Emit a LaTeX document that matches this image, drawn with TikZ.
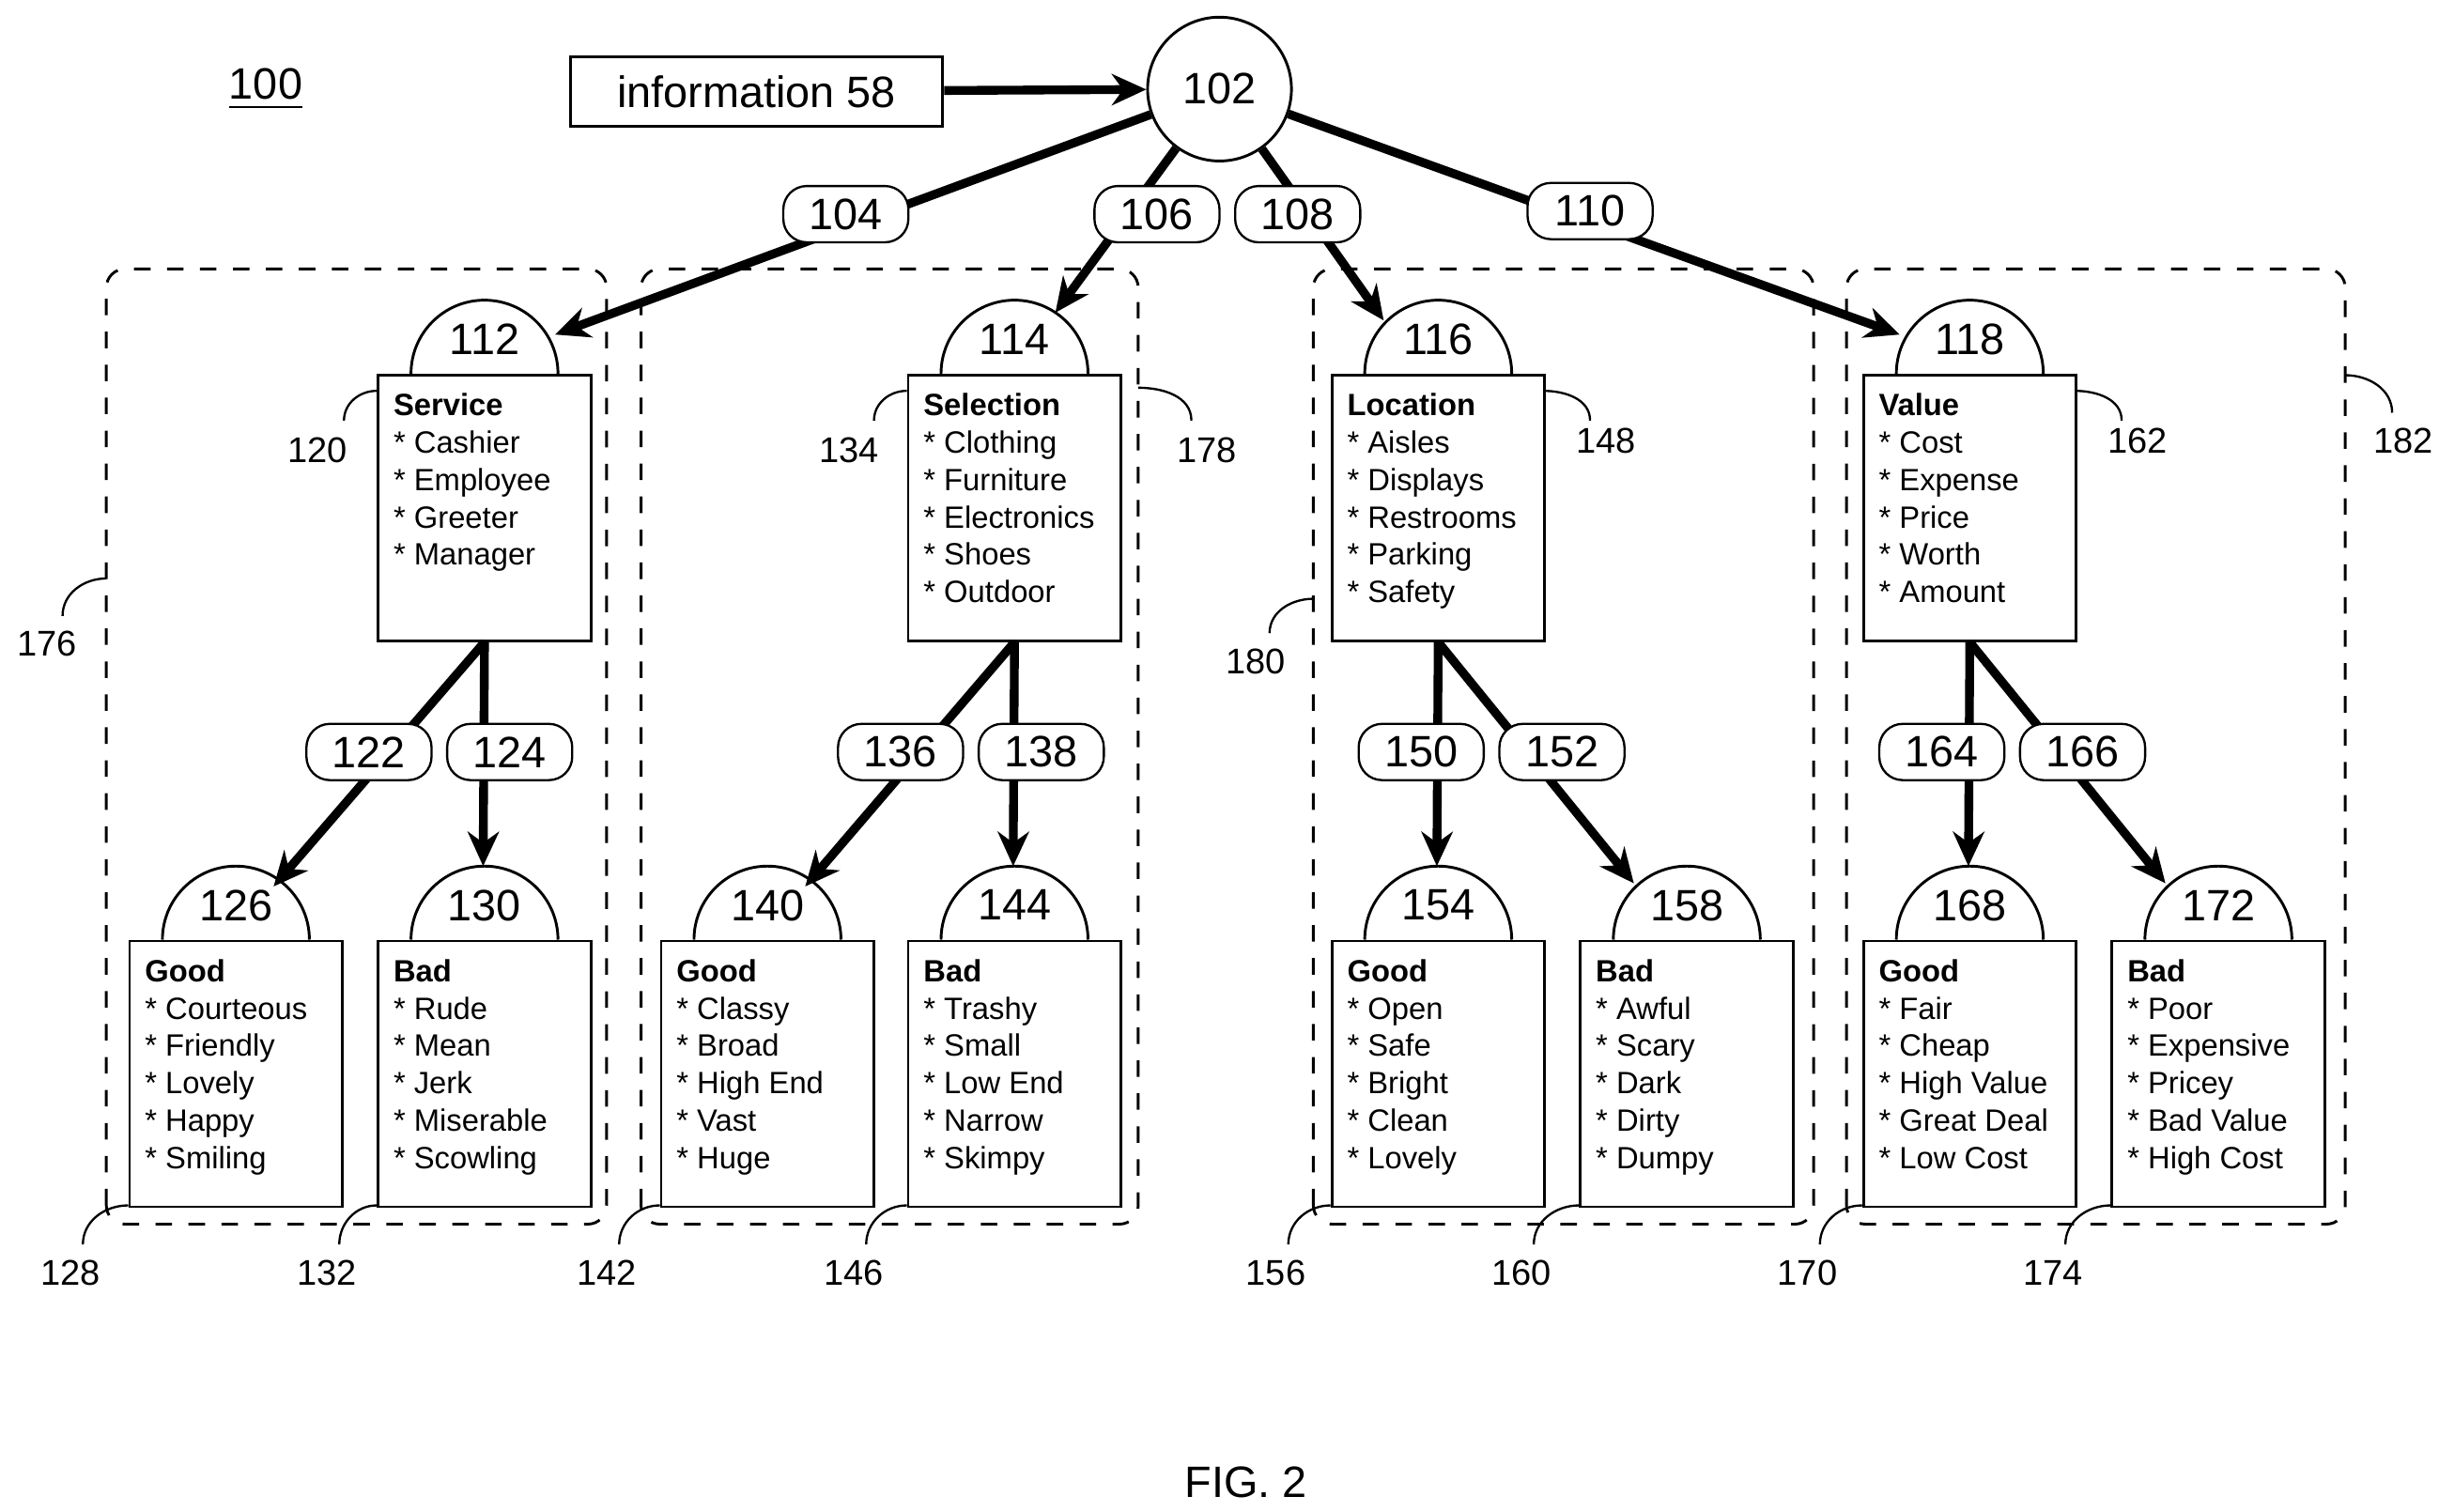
\documentclass[tikz,border=0pt]{standalone}
\usepackage{fontspec}
\setmainfont{Liberation Sans}
\usetikzlibrary{calc,arrows.meta}
\begin{document}
\begin{tikzpicture}[
 box/.style={draw,line width=0.5pt,minimum width=1.36cm,minimum height=1.70cm,inner sep=0,anchor=north west},
 btext/.style={anchor=north west,align=left,inner sep=0,font=\fontsize{5.6}{6.8}\selectfont},
 numf/.style={font=\fontsize{8}{9}\selectfont,inner sep=0},
 pill/.style={draw,fill=white,rounded corners=0.15cm,minimum width=0.8cm,minimum height=0.36cm,inner sep=0,font=\fontsize{8}{9}\selectfont},
 ref/.style={font=\fontsize{6.5}{7}\selectfont,inner sep=0},
 lead/.style={line width=0.4pt},
 big/.style={line width=1.6pt,-{Stealth[length=0.22cm,width=0.2cm]}},
 grp/.style={draw,dashed,line width=0.5pt,rounded corners=0.12cm}]
\useasboundingbox (0,0) rectangle (15.60,9.67);
\newcommand\cbox[6]{%
 \node[box] (#1) at (#2,#3) {};
 \draw[line width=0.5pt] ($(#1.north)+(-0.47,0)$) arc(180:0:0.47);
 \node[numf] (#1n) at ($(#1.north)+(0,0.22)$) {#4};
 \node[btext] (#1t) at ($(#1.north west)+(0.10,-0.12)$) {\textbf{#5}\\#6};
}
\node[font=\fontsize{8}{9}\selectfont] (n100) at (1.70,9.10) {\underline{100}};
\node[draw,line width=0.5pt,minimum width=2.38cm,minimum height=0.43cm,font=\fontsize{8}{9}\selectfont] (info) at (4.84,9.085) {information 58};
\node[draw,circle,line width=0.5pt,minimum size=0.92cm,inner sep=0,font=\fontsize{8}{9}\selectfont] (c102) at (7.80,9.10) {102};
\draw[big] (info) -- (c102);
% dashed groups
\draw[grp] (0.68,1.84) rectangle (3.88,7.95);
\draw[grp] (4.10,1.84) rectangle (7.28,7.95);
\draw[grp] (8.40,1.84) rectangle (11.60,7.95);
\draw[grp] (11.81,1.84) rectangle (15.00,7.95);
% level 1
\cbox{b112}{2.41}{7.28}{112}{Service}{* Cashier\\* Employee\\* Greeter\\* Manager}
\cbox{b114}{5.80}{7.28}{114}{Selection}{* Clothing\\* Furniture\\* Electronics\\* Shoes\\* Outdoor}
\cbox{b116}{8.51}{7.28}{116}{Location}{* Aisles\\* Displays\\* Restrooms\\* Parking\\* Safety}
\cbox{b118}{11.91}{7.28}{118}{Value}{* Cost\\* Expense\\* Price\\* Worth\\* Amount}
% level 2
\cbox{b126}{0.82}{3.66}{126}{Good}{* Courteous\\* Friendly\\* Lovely\\* Happy\\* Smiling}
\cbox{b130}{2.41}{3.66}{130}{Bad}{* Rude\\* Mean\\* Jerk\\* Miserable\\* Scowling}
\cbox{b140}{4.22}{3.66}{140}{Good}{* Classy\\* Broad\\* High End\\* Vast\\* Huge}
\cbox{b144}{5.80}{3.66}{144}{Bad}{* Trashy\\* Small\\* Low End\\* Narrow\\* Skimpy}
\cbox{b154}{8.51}{3.66}{154}{Good}{* Open\\* Safe\\* Bright\\* Clean\\* Lovely}
\cbox{b158}{10.10}{3.66}{158}{Bad}{* Awful\\* Scary\\* Dark\\* Dirty\\* Dumpy}
\cbox{b168}{11.91}{3.66}{168}{Good}{* Fair\\* Cheap\\* High Value\\* Great Deal\\* Low Cost}
\cbox{b172}{13.50}{3.66}{172}{Bad}{* Poor\\* Expensive\\* Pricey\\* Bad Value\\* High Cost}
% top arrows
\coordinate (e112) at (3.55,7.53);
\coordinate (e114) at (6.75,7.67);
\coordinate (e116) at (8.85,7.62);
\coordinate (e118) at (12.15,7.53);
\draw[big] (c102) -- (e112);
\draw[big] (c102) -- (e114);
\draw[big] (c102) -- (e116);
\draw[big] (c102) -- (e118);
\node[pill] (p104) at (5.41,8.30) {104};
\node[pill] (p106) at (7.40,8.30) {106};
\node[pill] (p108) at (8.30,8.30) {108};
\node[pill] (p110) at (10.17,8.32) {110};
% lower arrows
\coordinate (e126) at (1.75,4.00);
\coordinate (e130) at (3.09,4.13);
\coordinate (e140) at (5.15,4.00);
\coordinate (e144) at (6.48,4.13);
\coordinate (e154) at (9.19,4.13);
\coordinate (e158) at (10.45,4.02);
\coordinate (e168) at (12.59,4.13);
\coordinate (e172) at (13.85,4.02);
\draw[big] (b112.south) -- (e126);
\draw[big] (b112.south) -- (e130);
\draw[big] (b114.south) -- (e140);
\draw[big] (b114.south) -- (e144);
\draw[big] (b116.south) -- (e154);
\draw[big] (b116.south) -- (e158);
\draw[big] (b118.south) -- (e168);
\draw[big] (b118.south) -- (e172);
\node[pill] (p122) at (2.36,4.86) {122};
\node[pill] (p124) at (3.26,4.86) {124};
\node[pill] (p136) at (5.76,4.86) {136};
\node[pill] (p138) at (6.66,4.86) {138};
\node[pill] (p150) at (9.09,4.86) {150};
\node[pill] (p152) at (9.99,4.86) {152};
\node[pill] (p164) at (12.42,4.86) {164};
\node[pill] (p166) at (13.32,4.86) {166};
% reference callouts
\node[ref] (r120) at (2.03,6.79) {120};
\draw[lead] (2.20,6.98) to[out=90,in=180] (2.41,7.17);
\node[ref] (r134) at (5.43,6.79) {134};
\draw[lead] (5.59,6.98) to[out=90,in=180] (5.80,7.17);
\node[ref] (r148) at (10.27,6.85) {148};
\draw[lead] (9.87,7.17) to[out=0,in=90] (10.17,6.98);
\node[ref] (r162) at (13.67,6.85) {162};
\draw[lead] (13.27,7.17) to[out=0,in=90] (13.57,6.98);
\node[ref] (r178) at (7.72,6.79) {178};
\draw[lead] (7.28,7.19) to[out=0,in=90] (7.62,6.98);
\node[ref] (r182) at (15.37,6.85) {182};
\draw[lead] (15.00,7.27) to[out=0,in=90] (15.30,7.03);
\node[ref] (r176) at (0.30,5.55) {176};
\draw[lead] (0.40,5.73) to[out=90,in=180] (0.68,5.97);
\node[ref] (r180) at (8.03,5.44) {180};
\draw[lead] (8.12,5.62) to[out=90,in=180] (8.40,5.84);
\foreach \n/\lx/\bx in {128/0.45/0.82,132/2.09/2.41,142/3.88/4.22,146/5.46/5.80,156/8.16/8.51,160/9.73/10.10,170/11.56/11.91,174/13.13/13.50}{
 \node[ref] (r\n) at (\lx,1.53) {\n};
 \draw[lead] (\lx+0.08,1.71) to[out=90,in=180] (\bx,1.96);
}
\node[font=\fontsize{8}{9}\selectfont] (fig) at (7.97,0.19) {FIG. 2};
\end{tikzpicture}
\end{document}
